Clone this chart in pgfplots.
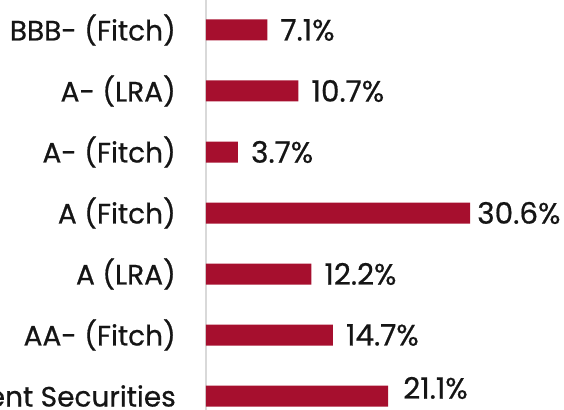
\documentclass[border=0pt]{standalone}
\usepackage{pgfplots}
\pgfplotsset{compat=1.18}
\usepackage{pgfplotstable}
\usepackage{fontspec}
\setmainfont{Poppins}[FakeBold=0.6]
\definecolor{barred}{HTML}{A60F2E}
\definecolor{txt}{HTML}{151515}
\pgfplotstableread{
y x dx dy
0 7.1 0 0
1 10.7 0 0
2 3.7 0 0
3 30.6 -6 0
4 12.2 0 0
5 14.7 0 0
6 21.1 2 8
}\data
\begin{document}
\begin{tikzpicture}
\begin{axis}[
  x=8.63pt, y=61pt,
  xmin=0, xmax=41,
  ymin=-0.7, ymax=6.8,
  y dir=reverse,
  xbar, bar width=21pt,
  bar shift=0pt,
  axis y line*=left,
  axis x line=none,
  y axis line style={draw=black!15, line width=1.5pt, -},
  ytick={0,...,6},
  yticklabels={BBB- (Fitch),A- (LRA),A- (Fitch),A (Fitch),A (LRA),AA- (Fitch),Government Securities},
  major tick length=0pt,
  yticklabel style={font=\fontsize{28}{32}\selectfont, text=txt, inner sep=0pt, anchor=east, xshift=-30pt},
  clip=false,
  point meta=x,
  visualization depends on={\thisrow{dx} \as \dx},
  visualization depends on={\thisrow{dy} \as \dy},
  nodes near coords={\pgfmathprintnumber[fixed,fixed zerofill,precision=1]{\pgfplotspointmeta}\%},
  /pgf/number format/assume math mode=true,
  every node near coord/.append style={font=\fontsize{29.5}{33}\selectfont, text=txt, inner sep=0pt, anchor=west, xshift=13pt+\dx pt, yshift=\dy pt},
]
\addplot[fill=barred, draw=none] table[x=x, y=y] {\data};
\coordinate (o) at (axis cs:0,0);
\end{axis}
\pgfresetboundingbox
\path[use as bounding box] ([shift={(-206pt,30pt)}]o) rectangle ([shift={(358pt,-379pt)}]o);
\end{tikzpicture}
\end{document}
